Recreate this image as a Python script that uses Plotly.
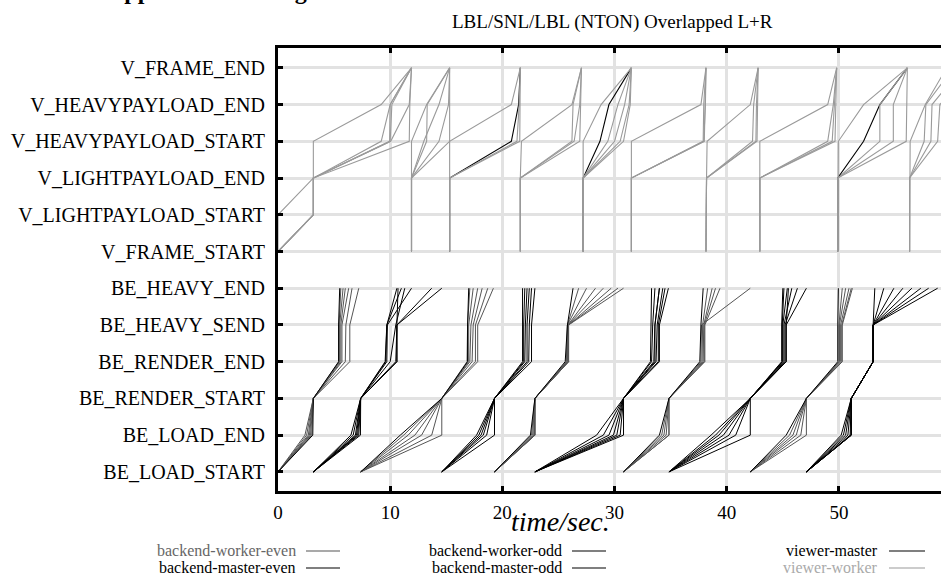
import plotly.graph_objects as go

# ---------------- data ----------------
y_categories = ["BE_LOAD_START", "BE_LOAD_END", "BE_RENDER_START", "BE_RENDER_END",
                "BE_HEAVY_SEND", "BE_HEAVY_END", "V_FRAME_START", "V_LIGHTPAYLOAD_START",
                "V_LIGHTPAYLOAD_END", "V_HEAVYPAYLOAD_START", "V_HEAVYPAYLOAD_END", "V_FRAME_END"]
be_events = y_categories[:6]
v_events = y_categories[6:]

x_ticks = [0, 10, 20, 30, 40, 50]

# backend lines: [LOAD_START, LOAD_END, RENDER_START, RENDER_END, HEAVY_SEND, HEAVY_END]
be_master_even = [
    [0, 3.1, 3.15, 5.4, 5.4, 5.5],
    [7.37, 10.9, 14.6, 16.9, 16.9, 17.0],
    [19.3, 22.5, 22.9, 25.6, 25.8, 26.3],
    [30.8, 34.0, 34.85, 37.6, 37.7, 37.9],
    [42.1, 45.3, 47.1, 49.9, 49.9, 49.95],
]
be_worker_even = [
    [0, 2.4, 3.15, 5.45, 5.45, 5.6],
    [0, 2.55, 3.15, 5.5, 5.5, 5.8],
    [0, 2.7, 3.15, 5.6, 5.6, 6.0],
    [0, 2.8, 3.15, 5.7, 5.7, 6.3],
    [0, 2.9, 3.15, 6.0, 6.05, 6.6],
    [0, 3.0, 3.15, 6.4, 6.4, 7.2],
    [7.37, 11.2, 14.6, 16.85, 16.9, 17.1],
    [7.37, 11.6, 14.6, 17.0, 17.0, 17.4],
    [7.37, 12.2, 14.6, 17.1, 17.2, 17.8],
    [7.37, 12.8, 14.6, 17.3, 17.4, 18.2],
    [7.37, 13.7, 14.6, 17.6, 17.6, 18.7],
    [7.37, 14.6, 14.6, 17.8, 17.8, 19.2],
    [19.3, 22.6, 22.9, 25.7, 25.8, 26.8],
    [19.3, 22.7, 22.9, 25.75, 25.8, 27.5],
    [19.3, 22.8, 22.9, 25.8, 25.85, 28.3],
    [19.3, 22.85, 22.9, 25.85, 25.85, 29.0],
    [19.3, 22.9, 22.9, 25.9, 25.9, 29.7],
    [19.3, 22.9, 22.9, 25.9, 25.9, 30.3],
    [19.3, 22.9, 22.9, 25.9, 25.9, 30.8],
    [30.8, 34.2, 34.85, 37.7, 37.75, 42.1],
    [30.8, 34.4, 34.85, 37.8, 37.85, 38.3],
    [30.8, 34.6, 34.85, 37.9, 37.95, 38.7],
    [30.8, 34.85, 34.85, 38.0, 38.0, 39.0],
    [30.8, 34.85, 34.85, 38.05, 38.05, 39.4],
    [42.1, 45.6, 47.1, 50.0, 50.0, 50.3],
    [42.1, 45.9, 47.1, 50.05, 50.05, 50.6],
    [42.1, 46.2, 47.1, 50.15, 50.15, 50.9],
    [42.1, 46.6, 47.1, 50.25, 50.25, 51.1],
    [42.1, 47.1, 47.1, 50.3, 50.3, 51.2],
]
be_master_odd = [
    [3.15, 7.2, 7.37, 10.6, 10.6, 10.7],
    [14.6, 17.7, 19.3, 21.8, 21.8, 21.8],
    [22.9, 28.4, 30.8, 33.6, 33.6, 34.0],
    [34.85, 39.0, 42.1, 44.9, 44.9, 45.0],
    [47.1, 50.2, 51.1, 53.05, 53.05, 53.2],
]
be_worker_odd = [
    [3.15, 6.5, 7.37, 9.55, 9.7, 10.6],
    [3.15, 6.7, 7.37, 9.6, 9.7, 11.0],
    [3.15, 6.9, 7.37, 9.7, 9.75, 11.9],
    [3.15, 7.0, 7.37, 10.0, 10.5, 11.3],
    [3.15, 7.1, 7.37, 10.5, 10.6, 13.7],
    [3.15, 7.35, 7.37, 10.6, 10.6, 14.6],
    [14.6, 17.9, 19.3, 21.9, 21.9, 22.0],
    [14.6, 18.1, 19.3, 22.0, 22.05, 22.2],
    [14.6, 18.3, 19.3, 22.2, 22.2, 22.4],
    [14.6, 18.6, 19.3, 22.35, 22.4, 22.6],
    [14.6, 19.3, 19.3, 22.6, 22.6, 22.9],
    [22.9, 29.0, 30.8, 33.2, 33.25, 33.3],
    [22.9, 29.5, 30.8, 33.3, 33.4, 33.6],
    [22.9, 29.9, 30.8, 33.5, 33.6, 34.0],
    [22.9, 30.2, 30.8, 33.7, 33.8, 34.3],
    [22.9, 30.5, 30.8, 33.9, 33.9, 34.5],
    [22.9, 30.8, 30.8, 34.0, 34.0, 34.8],
    [34.85, 38.6, 42.1, 44.95, 44.95, 45.1],
    [34.85, 39.3, 42.1, 45.0, 45.0, 45.4],
    [34.85, 39.7, 42.1, 45.1, 45.1, 45.8],
    [34.85, 40.2, 42.1, 45.2, 45.2, 46.3],
    [34.85, 40.8, 42.1, 45.3, 45.3, 47.1],
    [34.85, 42.1, 42.1, 45.3, 45.3, 45.5],
    [47.1, 50.4, 51.1, 53.05, 53.05, 54.0],
    [47.1, 50.6, 51.1, 53.05, 53.05, 54.9],
    [47.1, 50.8, 51.1, 53.05, 53.05, 55.7],
    [47.1, 51.0, 51.1, 53.05, 53.05, 56.5],
    [47.1, 51.1, 51.1, 53.05, 53.05, 57.3],
    [47.1, 51.1, 51.1, 53.05, 53.05, 58.0],
    [47.1, 51.1, 51.1, 53.05, 53.05, 58.8],
]

# viewer lines: [FRAME_START, LIGHT_START, LIGHT_END, HEAVY_START, HEAVY_END, FRAME_END]
viewer_worker = [
    [0, 0, 3.15, 3.15, 9.2, 11.9],
    [0, 3.15, 3.15, 9.2, 10.0, 11.9],
    [0, 3.15, 3.15, 9.95, 10.0, 11.9],
    [0, 3.15, 3.15, 10.0, 10.15, 11.9],
    [0, 3.15, 3.15, 10.05, 11.7, 11.9],
    [0, 3.15, 3.15, 11.7, 11.75, 11.9],
    [11.9, 11.9, 11.9, 11.9, 13.25, 15.3],
    [11.9, 11.9, 11.9, 13.25, 13.3, 15.3],
    [11.9, 11.9, 11.9, 13.0, 14.35, 15.3],
    [11.9, 11.9, 11.9, 14.35, 15.2, 15.3],
    [11.9, 11.9, 11.9, 15.3, 15.3, 15.3],
    [15.3, 15.3, 15.3, 15.3, 20.8, 21.6],
    [15.3, 15.3, 15.3, 21.3, 21.5, 21.6],
    [15.3, 15.3, 15.3, 21.55, 21.6, 21.6],
    [21.6, 21.6, 21.6, 21.7, 26.2, 27.05],
    [21.6, 21.6, 21.6, 26.2, 26.3, 27.05],
    [21.6, 21.6, 21.6, 26.4, 26.9, 27.05],
    [21.6, 21.6, 21.6, 26.9, 27.0, 27.05],
    [27.2, 27.2, 27.2, 27.2, 28.8, 31.5],
    [27.2, 27.2, 27.2, 29.4, 30.3, 31.5],
    [27.2, 27.2, 27.2, 30.0, 30.9, 31.5],
    [27.2, 27.2, 27.2, 30.5, 31.3, 31.5],
    [27.2, 27.2, 27.2, 30.8, 31.4, 31.5],
    [31.5, 31.5, 31.5, 31.5, 37.7, 38.15],
    [31.5, 31.5, 31.5, 37.9, 37.95, 38.15],
    [31.5, 31.5, 31.5, 37.95, 38.1, 38.15],
    [31.5, 31.5, 31.5, 38.0, 38.05, 38.15],
    [38.15, 38.15, 38.2, 38.25, 42.1, 42.8],
    [38.15, 38.15, 38.2, 42.3, 42.4, 42.8],
    [38.15, 38.15, 38.2, 42.6, 42.65, 42.8],
    [38.15, 38.15, 38.2, 42.7, 42.75, 42.8],
    [42.95, 42.95, 42.95, 42.95, 49.0, 49.8],
    [42.95, 42.95, 42.95, 49.0, 49.5, 49.8],
    [42.95, 42.95, 42.95, 49.4, 49.6, 49.8],
    [42.95, 42.95, 42.95, 49.65, 49.7, 49.8],
    [49.9, 49.9, 49.9, 49.95, 52.2, 56.1],
    [49.9, 49.9, 49.9, 53.65, 53.65, 56.1],
    [49.9, 49.9, 49.9, 54.85, 54.85, 56.1],
    [49.9, 49.9, 49.9, 56.0, 56.05, 56.1],
    [56.3, 56.3, 56.3, 56.35, 57.7, 59.6],
    [56.3, 56.3, 56.3, 57.6, 57.75, 60.2],
    [56.3, 56.3, 56.3, 58.2, 58.3, 61.0],
    [56.3, 56.3, 56.3, 58.8, 59.0, 62.0],
]
viewer_master = [
    [15.3, 15.3, 15.3, 20.8, 21.45, 21.6],
    [27.2, 27.2, 27.2, 28.7, 29.5, 31.5],
    [49.9, 49.9, 49.9, 52.2, 53.65, 56.1],
]

legend_labels = ["backend-worker-even", "backend-master-even", "backend-worker-odd",
                 "backend-master-odd", "viewer-master", "viewer-worker"]


def flatten(lines, events):
    xs, ys = [], []
    for ln in lines:
        xs += list(ln) + [None]
        ys += list(events) + [None]
    return xs, ys


# ---------------- figure ----------------
W, H = 941, 584
ML, MR, MT, MB = 278, 0, 48, 93
PW, PH = W - ML - MR, H - MT - MB
XMAX = 59.1


def px_x(p):
    return (p - ML) / PW


def px_y(p):
    return (H - MB - p) / PH


series = [
    (viewer_master, v_events, "#000000", 1.1, "viewer-master"),
    (viewer_worker, v_events, "#9a9a9a", 1.1, "viewer-worker"),
    (be_worker_even, be_events, "#555555", 1.0, "backend-worker-even"),
    (be_master_even, be_events, "#000000", 1.0, "backend-master-even"),
    (be_worker_odd, be_events, "#000000", 1.0, "backend-worker-odd"),
    (be_master_odd, be_events, "#000000", 1.0, "backend-master-odd"),
]

fig = go.Figure()
for lines, events, color, width, name in series:
    xs, ys = flatten(lines, events)
    fig.add_trace(go.Scatter(x=xs, y=ys, mode="lines", name=name,
                             line=dict(color=color, width=width),
                             connectgaps=False, showlegend=False, hoverinfo="skip"))

FONT = "Liberation Serif, Times New Roman, serif"

fig.update_layout(
    width=W, height=H,
    margin=dict(l=ML, r=MR, t=MT, b=MB, pad=0),
    paper_bgcolor="white", plot_bgcolor="white",
    font=dict(family=FONT, size=16, color="black"),
    showlegend=False,
)
fig.update_xaxes(
    range=[0, XMAX], tickvals=x_ticks, ticktext=[str(v) for v in x_ticks],
    showgrid=True, gridcolor="#e2e2e2", gridwidth=3,
    zeroline=False,
    showline=True, linecolor="black", linewidth=3, mirror="ticks",
    ticks="inside", ticklen=5, tickwidth=3, tickcolor="black",
    tickfont=dict(family=FONT, size=19, color="black"),
    ticklabelstandoff=2,
)
fig.update_yaxes(
    type="category", categoryorder="array", categoryarray=y_categories,
    range=[-0.52, 11.54],
    showgrid=True, gridcolor="#e2e2e2", gridwidth=3,
    zeroline=False,
    showline=True, linecolor="black", linewidth=3,
    ticks="inside", ticklen=5, tickwidth=3, tickcolor="black",
    tickfont=dict(family=FONT, size=20, color="black"),
    ticklabelstandoff=6,
)

annotations = [
    dict(text="LBL/SNL/LBL (NTON) Overlapped L+R", x=px_x(612), y=px_y(22),
         xref="paper", yref="paper", xanchor="center", yanchor="middle",
         showarrow=False, font=dict(family=FONT, size=19, color="black")),
    dict(text="<b>Application Timing</b>", x=px_x(105), y=px_y(6),
         xref="paper", yref="paper", xanchor="left", yanchor="bottom",
         showarrow=False, font=dict(family=FONT, size=24, color="black")),
    dict(text="<i>time/sec.</i>", x=px_x(560), y=px_y(521),
         xref="paper", yref="paper", xanchor="center", yanchor="middle",
         showarrow=False, font=dict(family=FONT, size=28, color="black")),
]

legend_items = [
    # label, text colour, line colour, text right px, line start px, line end px, row y px
    ("backend-worker-even", "#666666", "#555555", 298, 306, 340, 550),
    ("backend-master-even", "#000000", "#000000", 298, 306, 340, 567),
    ("backend-worker-odd", "#000000", "#000000", 564, 572, 606, 550),
    ("backend-master-odd", "#000000", "#000000", 564, 572, 606, 567),
    ("viewer-master", "#000000", "#000000", 880, 889, 925, 550),
    ("viewer-worker", "#aaaaaa", "#999999", 880, 889, 925, 567),
]
shapes = []
for label, tcol, lcol, tx, l0, l1, ry in legend_items:
    annotations.append(dict(text=label, x=px_x(tx), y=px_y(ry), xref="paper", yref="paper",
                            xanchor="right", yanchor="middle", showarrow=False,
                            font=dict(family=FONT, size=16, color=tcol)))
    shapes.append(dict(type="line", xref="paper", yref="paper",
                       x0=px_x(l0), x1=px_x(l1), y0=px_y(ry + 1), y1=px_y(ry + 1),
                       line=dict(color=lcol, width=1.2)))

fig.update_layout(annotations=annotations, shapes=shapes)

fig.write_html("out.html")
